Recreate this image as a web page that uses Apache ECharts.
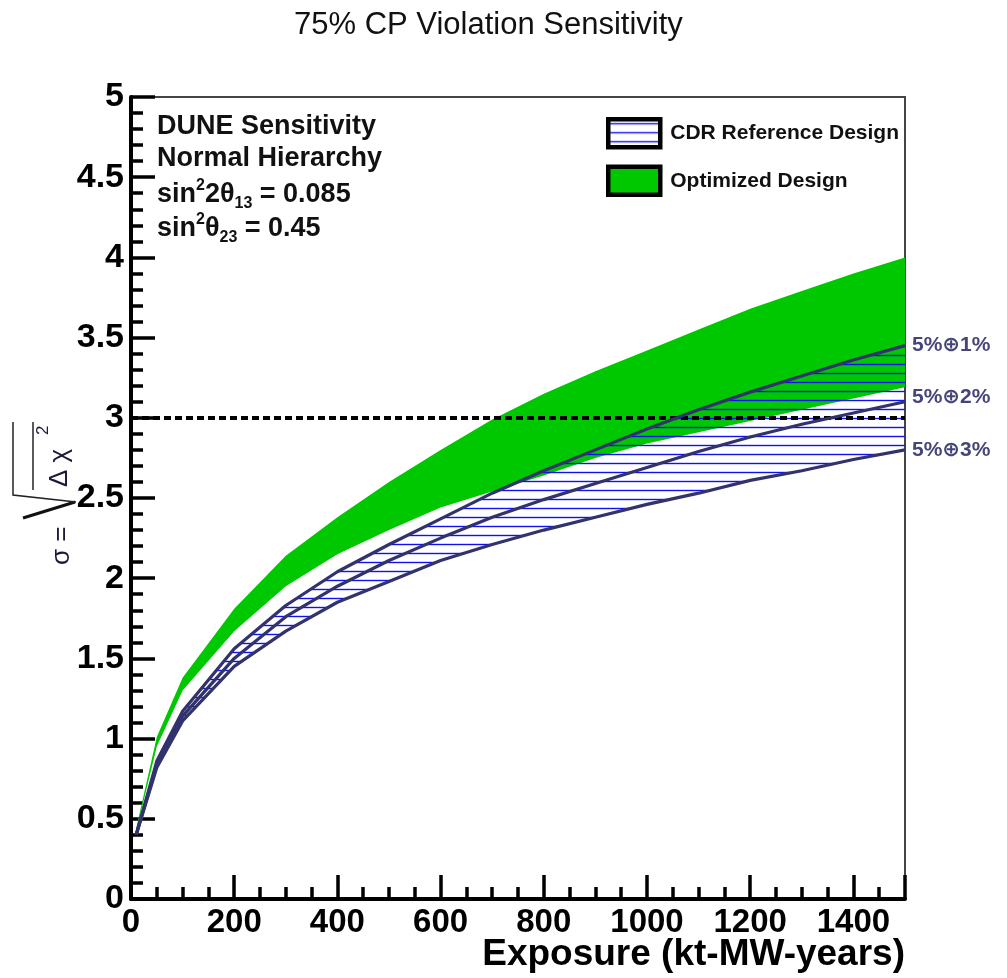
<!DOCTYPE html>
<html>
<head>
<meta charset="utf-8">
<script src="https://cdn.jsdelivr.net/npm/echarts@6/dist/echarts.min.js"></script>
<style>
html, body { margin: 0; padding: 0; background: #fff; }
#main { width: 1007px; height: 978px; }
</style>
</head>
<body>
<div id="main"></div>
<script>
// exposure in kt-MW-years
var exposure = [10, 50, 100, 200, 300, 400, 500, 600, 700, 800, 900, 1000, 1100, 1200, 1300, 1400, 1500];
// optimized design band (green)
var optLow  = [0.42, 0.95, 1.30, 1.67, 1.95, 2.15, 2.30, 2.44, 2.54, 2.64, 2.75, 2.84, 2.91, 2.98, 3.05, 3.12, 3.19];
var optHigh = [0.44, 1.01, 1.38, 1.81, 2.14, 2.38, 2.60, 2.80, 2.99, 3.15, 3.29, 3.42, 3.55, 3.68, 3.79, 3.90, 4.00];
// CDR reference design, 5% (+) 1%, 2%, 3% systematics
var cdr1 = [0.40, 0.86, 1.17, 1.56, 1.83, 2.04, 2.21, 2.37, 2.53, 2.67, 2.80, 2.93, 3.05, 3.16, 3.26, 3.36, 3.45];
var cdr2 = [0.40, 0.84, 1.14, 1.50, 1.76, 1.95, 2.11, 2.25, 2.38, 2.49, 2.59, 2.69, 2.79, 2.88, 2.96, 3.03, 3.10];
var cdr3 = [0.40, 0.82, 1.11, 1.45, 1.67, 1.85, 1.98, 2.11, 2.21, 2.30, 2.38, 2.46, 2.53, 2.61, 2.67, 2.74, 2.80];
var cdrNames = ['5%\u22951%', '5%\u22952%', '5%\u22953%'];
var threshold = 3;

var FONT = '"Liberation Sans", "DejaVu Sans", sans-serif';
var NAVY = '#32326c';

function pairs(ys) {
    return exposure.map(function(x, i) { return [x, ys[i]]; });
}

// horizontal hatch
var hc = document.createElement('canvas');
hc.width = 16;
hc.height = 9;
var hctx = hc.getContext('2d');
hctx.strokeStyle = '#1010f5';
hctx.lineWidth = 1.4;
hctx.beginPath();
hctx.moveTo(0, 4.5);
hctx.lineTo(16, 4.5);
hctx.stroke();
var hatch = { image: hc, repeat: 'repeat' };

// band between two curves, drawn once as one polygon
function band(name, lo, hi, fill, z) {
    return {
        name: name,
        type: 'custom',
        z: z,
        silent: true,
        itemStyle: { color: fill },
        data: exposure.map(function(x, i) { return [x, lo[i], hi[i]]; }),
        encode: { x: 0, y: [1, 2] },
        renderItem: function(params, api) {
            if (params.dataIndex !== 0) return null;
            var pts = [];
            for (var i = 0; i < exposure.length; i++) pts.push(api.coord([exposure[i], hi[i]]));
            for (var j = exposure.length - 1; j >= 0; j--) pts.push(api.coord([exposure[j], lo[j]]));
            return { type: 'polygon', shape: { points: pts }, style: { fill: fill } };
        }
    };
}

var myChart = echarts.init(document.getElementById('main'));

var lineSeries = [cdr1, cdr2, cdr3].map(function(ys, i) {
    return {
        name: cdrNames[i],
        type: 'line',
        data: pairs(ys),
        symbol: 'none',
        z: 5,
        lineStyle: { color: NAVY, width: 3.2 },
        endLabel: {
            show: true,
            formatter: cdrNames[i],
            fontFamily: FONT,
            fontWeight: 'bold',
            fontSize: 21,
            color: '#45457a',
            distance: 7,
            offset: i === 1 ? [0, -5] : [0, 0]
        }
    };
});

var option = {
    animation: false,
    title: {
        text: '75% CP Violation Sensitivity',
        left: 289,
        top: 5,
        textStyle: { fontFamily: FONT, fontSize: 31, fontWeight: 'normal', color: '#111' }
    },
    legend: {
        orient: 'vertical',
        left: 606,
        top: 117,
        padding: 0,
        itemWidth: 52,
        itemHeight: 28,
        itemGap: 15,
        icon: 'rect',
        selectedMode: false,
        textStyle: { fontFamily: FONT, fontSize: 21, fontWeight: 'bold', color: '#111', padding: [0, 0, 0, 5] },
        data: [
            { name: 'CDR Reference Design', itemStyle: { color: hatch, borderColor: '#000', borderWidth: 4.5 } },
            { name: 'Optimized Design', itemStyle: { color: '#00c800', borderColor: '#000', borderWidth: 4.5 } }
        ]
    },
    grid: {
        left: 131, right: 102, top: 97, bottom: 79,
        show: true, borderColor: '#444', borderWidth: 2, backgroundColor: 'transparent'
    },
    xAxis: {
        type: 'value',
        min: 0,
        max: 1500,
        interval: 200,
        axisLine: { lineStyle: { color: '#000', width: 4 } },
        axisTick: { inside: true, length: 24, lineStyle: { color: '#000', width: 3.5 } },
        minorTick: { show: true, splitNumber: 4, length: 12, lineStyle: { color: '#000', width: 3.5 } },
        splitLine: { show: false },
        axisLabel: {
            showMaxLabel: false, margin: 7, fontFamily: FONT, fontSize: 33, fontWeight: 'bold', color: '#000',
            formatter: function(v) { return String(v); }
        }
    },
    yAxis: {
        type: 'value',
        min: 0,
        max: 5,
        interval: 0.5,
        axisLine: { lineStyle: { color: '#000', width: 4 } },
        axisTick: { inside: true, length: 24, lineStyle: { color: '#000', width: 3.5 } },
        minorTick: { show: true, splitNumber: 5, length: 12, lineStyle: { color: '#000', width: 3.5 } },
        splitLine: { show: false },
        axisLabel: { margin: 7, fontFamily: FONT, fontSize: 34, fontWeight: 'bold', color: '#000' }
    },
    graphic: [
        { type: 'text', left: 157, top: 113, style: { text: 'DUNE Sensitivity', font: 'bold 27px ' + FONT, fill: '#111' } },
        { type: 'text', left: 157, top: 145, style: { text: 'Normal Hierarchy', font: 'bold 27px ' + FONT, fill: '#111' } },
        {
            type: 'text', left: 157, top: 178,
            style: {
                text: '{a|sin}{p|2}{a|2\u03b8}{b|13}{a| = 0.085}',
                fill: '#111',
                rich: {
                    a: { fontFamily: FONT, fontSize: 27, fontWeight: 'bold', lineHeight: 34 },
                    p: { fontFamily: FONT, fontSize: 16, fontWeight: 'bold', lineHeight: 16, verticalAlign: 'top' },
                    b: { fontFamily: FONT, fontSize: 16, fontWeight: 'bold', lineHeight: 16, verticalAlign: 'bottom' }
                }
            }
        },
        {
            type: 'text', left: 157, top: 212,
            style: {
                text: '{a|sin}{p|2}{a|\u03b8}{b|23}{a| = 0.45}',
                fill: '#111',
                rich: {
                    a: { fontFamily: FONT, fontSize: 27, fontWeight: 'bold', lineHeight: 34 },
                    p: { fontFamily: FONT, fontSize: 16, fontWeight: 'bold', lineHeight: 16, verticalAlign: 'top' },
                    b: { fontFamily: FONT, fontSize: 16, fontWeight: 'bold', lineHeight: 16, verticalAlign: 'bottom' }
                }
            }
        },
        { type: 'text', right: 102, top: 936, style: { text: 'Exposure (kt-MW-years)', font: 'bold 37px ' + FONT, fill: '#000' } },
        {
            type: 'group', x: 62, y: 565, rotation: Math.PI / 2,
            children: [
                { type: 'text', x: 0, y: 0, style: { text: '\u03c3 =', font: '26px ' + FONT, fill: '#1a1a3a', verticalAlign: 'middle', align: 'left' } },
                { type: 'polyline', shape: { points: [[47, -39], [63, 13]] }, style: { stroke: '#111', lineWidth: 3, fill: null } },
                { type: 'polyline', shape: { points: [[63, 14], [70, -49], [143, -49]] }, style: { stroke: '#222', lineWidth: 1.5, fill: null } },
                { type: 'polyline', shape: { points: [[75, -29], [143, -29]] }, style: { stroke: '#222', lineWidth: 1.5, fill: null } },
                { type: 'text', x: 78, y: -2, style: { text: '\u0394 \u03c7', font: '26px ' + FONT, fill: '#1a1a3a', verticalAlign: 'middle', align: 'left' } },
                { type: 'text', x: 130, y: -19, style: { text: '2', font: '17px ' + FONT, fill: '#1a1a3a', verticalAlign: 'middle', align: 'left' } }
            ]
        }
    ],
    series: [
        band('Optimized Design', optLow, optHigh, '#00c800', 1),
        band('CDR Reference Design', cdr3, cdr1, hatch, 2),
        {
            name: 'threshold',
            type: 'line',
            data: [],
            z: 3,
            markLine: {
                silent: true,
                symbol: 'none',
                label: { show: false },
                lineStyle: { color: '#000', width: 4, type: [7, 4], opacity: 1 },
                data: [{ yAxis: threshold }]
            }
        }
    ].concat(lineSeries)
};

myChart.setOption(option);
</script>
</body>
</html>
